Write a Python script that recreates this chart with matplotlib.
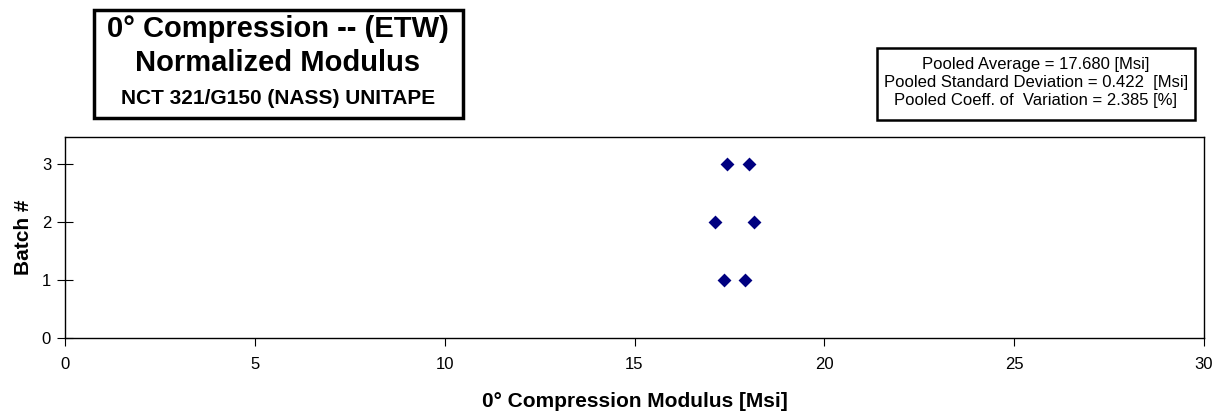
import matplotlib
matplotlib.use("Agg")
import matplotlib.pyplot as plt

batch = [1, 1, 2, 2, 3, 3]
modulus = [17.35, 17.92, 17.11, 18.16, 17.44, 18.02]
x_ticks = [0, 5, 10, 15, 20, 25, 30]
y_ticks = [0, 1, 2, 3]

plt.rcParams['font.family'] = ['Liberation Sans', 'DejaVu Sans']

W, H = 1219, 415
fig = plt.figure(figsize=(W/100, H/100), dpi=100)
ax = fig.add_axes([65/W, 1-338/H, (1204-65)/W, (338-137)/H])
ax.scatter(modulus, batch, marker='D', s=50, color='#000080', zorder=3, linewidths=0)
ax.set_xlim(0, 30)
ax.set_ylim(0, 3.47)
ax.set_xticks(x_ticks)
ax.set_yticks(y_ticks)
ax.tick_params(axis='x', direction='out', length=6, labelsize=12, pad=8)
ax.tick_params(axis='y', direction='inout', length=12, labelsize=12, pad=4)
for s in ax.spines.values():
    s.set_linewidth(1.0)
ax.set_xlabel('0° Compression Modulus [Msi]', fontsize=15, fontweight='bold', labelpad=14)
ax.set_ylabel('Batch #', fontsize=15, fontweight='bold', labelpad=6)

# Title box
fig.patches.append(plt.Rectangle((94/W, 1-118/H), (463-94)/W, (118-10)/H,
                                 transform=fig.transFigure, fill=False, lw=2.5, ec='black'))
cx = 278/W
fig.text(cx, 1-29/H, '0° Compression -- (ETW)', ha='center', va='center',
         fontsize=21, fontweight='bold')
fig.text(cx, 1-63/H, 'Normalized Modulus', ha='center', va='center',
         fontsize=21, fontweight='bold')
fig.text(cx, 1-99/H, 'NCT 321/G150 (NASS) UNITAPE', ha='center', va='center',
         fontsize=15, fontweight='bold')

# Stats box
fig.patches.append(plt.Rectangle((877/W, 1-120/H), (1195-877)/W, (120-48)/H,
                                 transform=fig.transFigure, fill=False, lw=1.8, ec='black'))
sx = 1036/W
fig.text(sx, 1-65/H, 'Pooled Average = 17.680 [Msi]', ha='center', va='center', fontsize=12)
fig.text(sx, 1-83/H, 'Pooled Standard Deviation = 0.422  [Msi]', ha='center', va='center', fontsize=12)
fig.text(sx, 1-101/H, 'Pooled Coeff. of  Variation = 2.385 [%]', ha='center', va='center', fontsize=12)

fig.savefig('out.png', dpi=100)
